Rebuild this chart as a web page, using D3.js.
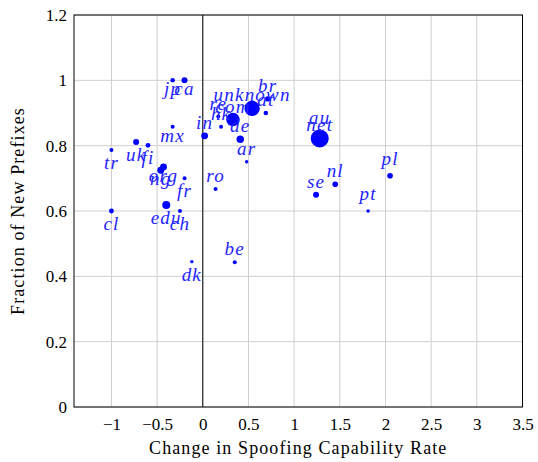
<!DOCTYPE html>
<html>
<head>
<meta charset="utf-8">
<script src="https://cdn.jsdelivr.net/npm/d3@7"></script>
<style>
  body { margin: 0; background: #fff; }
  svg text { font-family: "Liberation Serif", "DejaVu Serif", serif; }
  .tick-label { font-size: 17px; fill: #000; }
  .axis-title { font-size: 18px; fill: #000; letter-spacing: 1.1px; }
  .pt-label { font-size: 19px; font-style: italic; fill: #2424ff; letter-spacing: 1.2px; }
</style>
</head>
<body>
<div id="chart"></div>
<script>
// Scatter of country / TLD groups: change in spoofing capability vs. new prefixes

var labels = ['tr', 'cl', 'uk', 'fi', 'org', 'ng', 'edu', 'ch', 'fr', 'jp', 'ca', 'mx', 'dk',
              'in', 'ro', 'be', 're', 'hk', 'com', 'unknown', 'at', 'br', 'de', 'ar',
              'au', 'net', 'se', 'nl', 'pt', 'pl'];
var changeRate = [-1.00, -1.00, -0.73, -0.60, -0.43, -0.46, -0.40, -0.25, -0.20, -0.33, -0.20, -0.33, -0.12,
                  0.02, 0.14, 0.35, 0.17, 0.20, 0.33, 0.54, 0.69, 0.71, 0.41, 0.48,
                  1.28, 1.28, 1.24, 1.45, 1.81, 2.05];
var newFraction = [0.787, 0.600, 0.811, 0.801, 0.735, 0.725, 0.618, 0.600, 0.700, 1.000, 1.000, 0.858, 0.445,
                   0.830, 0.667, 0.443, 0.889, 0.858, 0.880, 0.914, 0.900, 0.943, 0.820, 0.751,
                   0.845, 0.822, 0.650, 0.682, 0.600, 0.708];
var prefixCount = [4, 6, 9, 6, 12, 12, 16, 4, 4, 5, 9, 4, 3,
                   12, 4, 4, 4, 4, 45, 59, 5, 7, 14, 3,
                   4, 81, 9, 8, 3, 8];

var xTicks = [-1, -0.5, 0, 0.5, 1, 1.5, 2, 2.5, 3, 3.5];
var yTicks = [0, 0.2, 0.4, 0.6, 0.8, 1, 1.2];

var width = 538, height = 462;
var margin = {top: 15, right: 15.5, bottom: 55, left: 74};

var svg = d3.select('#chart').append('svg')
    .attr('width', width)
    .attr('height', height);

var x = d3.scaleLinear().domain([-1.41, 3.5]).range([margin.left, width - margin.right]);
var y = d3.scaleLinear().domain([0, 1.2]).range([height - margin.bottom, margin.top]);
var r = d3.scaleSqrt().domain([0, d3.max(prefixCount)]).range([0, 9]);

var fmt = function(d) { return d < 0 ? '\u2212' + Math.abs(d) : String(d); };

// grid
var grid = svg.append('g').attr('class', 'grid');
grid.selectAll('line.gx')
    .data(xTicks)
  .enter().append('line')
    .attr('x1', x).attr('x2', x)
    .attr('y1', y(0)).attr('y2', y(1.2))
    .style('stroke', '#cfcfcf')
    .style('stroke-width', 1);
grid.selectAll('line.gy')
    .data(yTicks)
  .enter().append('line')
    .attr('x1', x.range()[0]).attr('x2', x.range()[1])
    .attr('y1', y).attr('y2', y)
    .style('stroke', '#cfcfcf')
    .style('stroke-width', 1);

// zero line
svg.append('line')
    .attr('x1', x(0)).attr('x2', x(0))
    .attr('y1', y(0)).attr('y2', y(1.2))
    .style('stroke', '#000')
    .style('stroke-width', 1);

// frame
svg.append('rect')
    .attr('x', x.range()[0])
    .attr('y', y.range()[1])
    .attr('width', x.range()[1] - x.range()[0])
    .attr('height', y.range()[0] - y.range()[1])
    .style('fill', 'none')
    .style('stroke', '#000')
    .style('stroke-width', 1);

// axes (labels only, pgfplots style)
var xAxis = svg.append('g')
    .attr('transform', 'translate(0,' + y(0) + ')')
    .call(d3.axisBottom(x).tickValues(xTicks).tickFormat(fmt).tickSize(0).tickPadding(11));
var yAxis = svg.append('g')
    .attr('transform', 'translate(' + x.range()[0] + ',0)')
    .call(d3.axisLeft(y).tickValues(yTicks).tickFormat(String).tickSize(0).tickPadding(7));
[xAxis, yAxis].forEach(function(a) {
  a.select('.domain').remove();
  a.selectAll('text').attr('class', 'tick-label').attr('font-family', null).attr('font-size', null);
  a.attr('font-family', null).attr('font-size', null);
});

svg.append('text')
    .attr('class', 'axis-title')
    .attr('x', (x.range()[0] + x.range()[1]) / 2)
    .attr('y', 454)
    .attr('text-anchor', 'middle')
    .text('Change in Spoofing Capability Rate');

svg.append('text')
    .attr('class', 'axis-title')
    .attr('transform', 'translate(24,' + (y(0) + y(1.2)) / 2 + ') rotate(-90)')
    .attr('text-anchor', 'middle')
    .text('Fraction of New Prefixes');

// points
var points = labels.map(function(d, i) {
  return {label: d, cx: changeRate[i], cy: newFraction[i], n: prefixCount[i]};
});

svg.append('g').selectAll('circle')
    .data(points)
  .enter().append('circle')
    .attr('cx', function(d) { return x(d.cx); })
    .attr('cy', function(d) { return y(d.cy); })
    .attr('r', function(d) { return r(d.n); })
    .style('fill', '#0000ff');

// labels: negative change below the mark, otherwise above
var hasDescender = function(s) { return /[gjpqy]/.test(s); };
var hasAscender = function(s) { return /[bdfhklt]/.test(s); };

svg.append('g').selectAll('text')
    .data(points)
  .enter().append('text')
    .attr('class', 'pt-label')
    .attr('text-anchor', 'middle')
    .attr('x', function(d) { return x(d.cx); })
    .attr('y', function(d) {
      var py = y(d.cy);
      if (d.cx < 0) {
        return py + 7 + (hasAscender(d.label) ? 12 : 8);
      }
      return py - 7 - (hasDescender(d.label) ? 4 : 0);
    })
    .text(function(d) { return d.label; });
</script>
</body>
</html>
